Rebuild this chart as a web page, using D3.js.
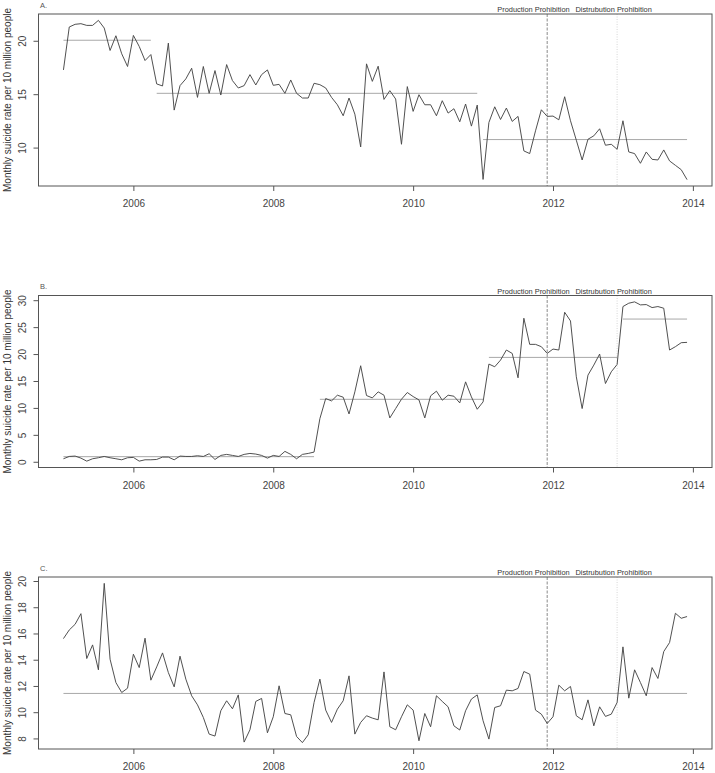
<!DOCTYPE html>
<html>
<head>
<meta charset="utf-8">
<script src="https://cdn.jsdelivr.net/npm/d3@7"></script>
<style>
  html, body { margin: 0; padding: 0; background: #fff; }
  svg { display: block; font-family: "Liberation Sans", Arial, Helvetica, sans-serif; }
</style>
</head>
<body>
<svg id="chart" width="715" height="773"></svg>
<script>
// ---------------- DATA ----------------
const startYear = 2005; // monthly series, Jan 2005 .. Dec 2013
const seriesA = [17.27,21.29,21.54,21.6,21.44,21.44,21.91,21.19,19.09,20.47,18.78,17.59,
  20.5,19.47,18.15,18.71,15.96,15.77,19.78,13.51,15.8,16.43,17.43,14.7,
  17.59,15.08,17.21,14.92,17.77,16.27,15.58,15.8,16.83,15.86,16.83,17.27,
  15.83,15.92,15.08,16.33,15.08,14.64,14.64,16.02,15.89,15.58,14.7,14.01,
  12.98,14.64,13.13,10.06,17.84,16.2,17.62,14.51,15.33,14.55,10.31,15.71,
  13.39,14.95,14.01,14.01,12.98,14.39,13.23,13.64,12.41,14.08,12.01,13.98,
  7.02,12.35,13.82,12.63,13.7,12.45,12.92,9.69,9.44,11.57,13.54,12.92,
  12.95,12.6,14.76,12.51,10.69,8.84,10.78,11.1,11.76,10.22,10.31,9.84,
  12.51,9.59,9.44,8.53,9.59,8.9,8.84,9.78,8.75,8.34,7.93,7.0];
const seriesB = [0.56,0.99,1.06,0.68,0.12,0.56,0.75,0.99,0.75,0.56,0.37,0.75,
  0.81,0.12,0.37,0.37,0.43,0.87,0.87,0.37,1.06,0.99,0.99,1.12,
  0.99,1.49,0.43,1.18,1.37,1.18,0.99,1.37,1.55,1.43,1.18,0.68,
  1.18,0.99,1.93,1.37,0.56,1.37,1.55,1.8,8.01,11.74,11.3,12.36,
  11.99,8.88,12.98,17.83,12.3,11.86,12.98,12.36,8.14,9.88,11.61,12.86,
  12.11,11.49,8.14,12.24,13.11,11.43,12.36,12.17,10.93,14.84,12.05,9.75,
  11.12,18.14,17.64,18.88,20.75,20.12,15.59,26.65,21.8,21.8,21.37,20.12,
  20.93,20.75,27.76,26.15,15.78,9.88,16.09,17.95,20.0,14.53,16.71,18.07,
  28.82,29.44,29.69,29.13,29.19,28.63,28.82,28.51,20.75,21.37,22.11,22.17];
const seriesC = [15.61,16.27,16.7,17.51,14.09,15.13,13.23,19.82,14.04,12.26,11.5,11.83,
  14.42,13.4,15.64,12.44,13.45,14.52,13.02,11.93,14.27,12.52,11.25,10.56,
  9.6,8.33,8.18,10.11,10.87,10.26,11.32,7.72,8.66,10.82,11.05,8.43,
  9.65,12.01,9.9,9.8,8.15,7.68,8.28,10.74,12.52,10.16,9.22,10.23,
  10.87,12.77,8.33,9.22,9.73,9.55,9.42,13.07,8.89,8.66,9.65,10.56,
  10.16,7.82,9.9,8.89,11.25,10.82,10.41,8.96,8.64,10.11,11.0,11.32,
  9.35,7.95,10.36,10.49,11.68,11.63,11.81,13.1,12.9,10.16,9.85,9.14,
  9.65,12.06,11.63,11.96,9.73,9.42,10.94,8.96,10.41,9.68,9.85,10.74,
  14.98,11.07,13.23,12.26,11.25,13.4,12.57,14.62,15.31,17.54,17.16,17.29];

// period means: [first month index, last month index, level]
const segmentsA = [[0, 15, 20.05], [16, 71, 15.08], [72, 107, 10.75]];
const segmentsB = [[0, 43, 0.95], [44, 72, 11.6], [73, 95, 19.38], [96, 107, 26.5]];
const segmentsC = [[0, 107, 11.43]];

const panelLabels = ["A.", "B.", "C."];
const eventMonths = [83, 95];           // Dec 2011, Dec 2012
const eventLabels = ["Production Prohibition", "Distrubution Prohibition"];
const xTicks = [2006, 2008, 2010, 2012, 2014];
const yTicksA = [10, 15, 20];
const yTicksB = [0, 5, 10, 15, 20, 25, 30];
const yTicksC = [8, 10, 12, 14, 16, 18, 20];
const yTitle = "Monthly suicide rate per 10 million people";

// ---------------- DRAW ----------------
const svg = d3.select("#chart");
const left = 38.5, right = 712, plotH = 172;
const tops = [14, 295.5, 577];

const toYear = i => startYear + i / 12;
const n = seriesA.length;
const xr = [toYear(0), toYear(n - 1)];
const xpad = (xr[1] - xr[0]) * 0.04;
const x = d3.scaleLinear().domain([xr[0] - xpad, xr[1] + xpad]).range([left, right]);

const panels = [
  {data: seriesA, seg: segmentsA, ticks: yTicksA},
  {data: seriesB, seg: segmentsB, ticks: yTicksB},
  {data: seriesC, seg: segmentsC, ticks: yTicksC}
];

panels.forEach((p, k) => {
  const top = tops[k], bottom = top + plotH;
  const ext = d3.extent(p.data);
  const ypad = (ext[1] - ext[0]) * 0.04;
  const y = d3.scaleLinear().domain([ext[0] - ypad, ext[1] + ypad]).range([bottom, top]);
  const g = svg.append("g");

  // event lines
  g.append("line")
    .attr("x1", x(toYear(eventMonths[0]))).attr("x2", x(toYear(eventMonths[0])))
    .attr("y1", top).attr("y2", bottom)
    .attr("stroke", "#8a8a8a").attr("stroke-width", 1).attr("stroke-dasharray", "3,1.5");
  g.append("line")
    .attr("x1", x(toYear(eventMonths[1]))).attr("x2", x(toYear(eventMonths[1])))
    .attr("y1", top).attr("y2", bottom)
    .attr("stroke", "#d6d6d6").attr("stroke-width", 1).attr("stroke-dasharray", "1,1.5");

  // period mean segments
  g.selectAll(".seg").data(p.seg).enter().append("line")
    .attr("x1", d => x(toYear(d[0]))).attr("x2", d => x(toYear(d[1])))
    .attr("y1", d => y(d[2])).attr("y2", d => y(d[2]))
    .attr("stroke", "#a8a8a8").attr("stroke-width", 1);

  // data line
  const line = d3.line().x((d, i) => x(toYear(i))).y(d => y(d));
  g.append("path").datum(p.data).attr("d", line)
    .attr("fill", "none").attr("stroke", "#474747").attr("stroke-width", 0.95)
    .attr("stroke-linejoin", "round");

  // box
  g.append("rect").attr("x", left).attr("y", top)
    .attr("width", right - left).attr("height", plotH)
    .attr("fill", "none").attr("stroke", "#555").attr("stroke-width", 1);

  // x axis
  const xa = g.append("g").attr("transform", `translate(0,${bottom})`)
    .call(d3.axisBottom(x).tickValues(xTicks).tickFormat(d3.format("d")).tickSize(5).tickPadding(9));
  xa.select(".domain").remove();
  xa.selectAll("line").attr("stroke", "#555");
  xa.selectAll("text").attr("fill", "#444").attr("font-size", 10).style("font-family", "inherit");

  // y axis
  const ya = g.append("g").attr("transform", `translate(${left},0)`)
    .call(d3.axisLeft(y).tickValues(p.ticks).tickSize(5));
  ya.select(".domain").remove();
  ya.selectAll("line").attr("stroke", "#555");
  ya.selectAll("text")
    .attr("transform", "rotate(-90)").attr("x", 0).attr("y", -13).attr("dy", 0)
    .attr("text-anchor", "middle").attr("fill", "#444").attr("font-size", 10)
    .style("font-family", "inherit");

  // y title
  g.append("text")
    .attr("transform", `translate(10.5,${(top + bottom) / 2}) rotate(-90)`)
    .attr("text-anchor", "middle").attr("font-size", 10).attr("fill", "#333")
    .text(yTitle);

  // panel label
  g.append("text").attr("x", left + 1.5).attr("y", top - 6.5)
    .attr("font-size", 7.5).attr("fill", "#555").text(panelLabels[k]);

  // event labels
  g.append("text").attr("x", x(toYear(eventMonths[0])) - 13.7).attr("y", top - 2)
    .attr("text-anchor", "middle").attr("font-size", 7.4).attr("fill", "#333")
    .text(eventLabels[0]);
  g.append("text").attr("x", x(toYear(eventMonths[1])) - 3.5).attr("y", top - 2)
    .attr("text-anchor", "middle").attr("font-size", 7.4).attr("fill", "#333")
    .text(eventLabels[1]);
});
</script>
</body>
</html>
